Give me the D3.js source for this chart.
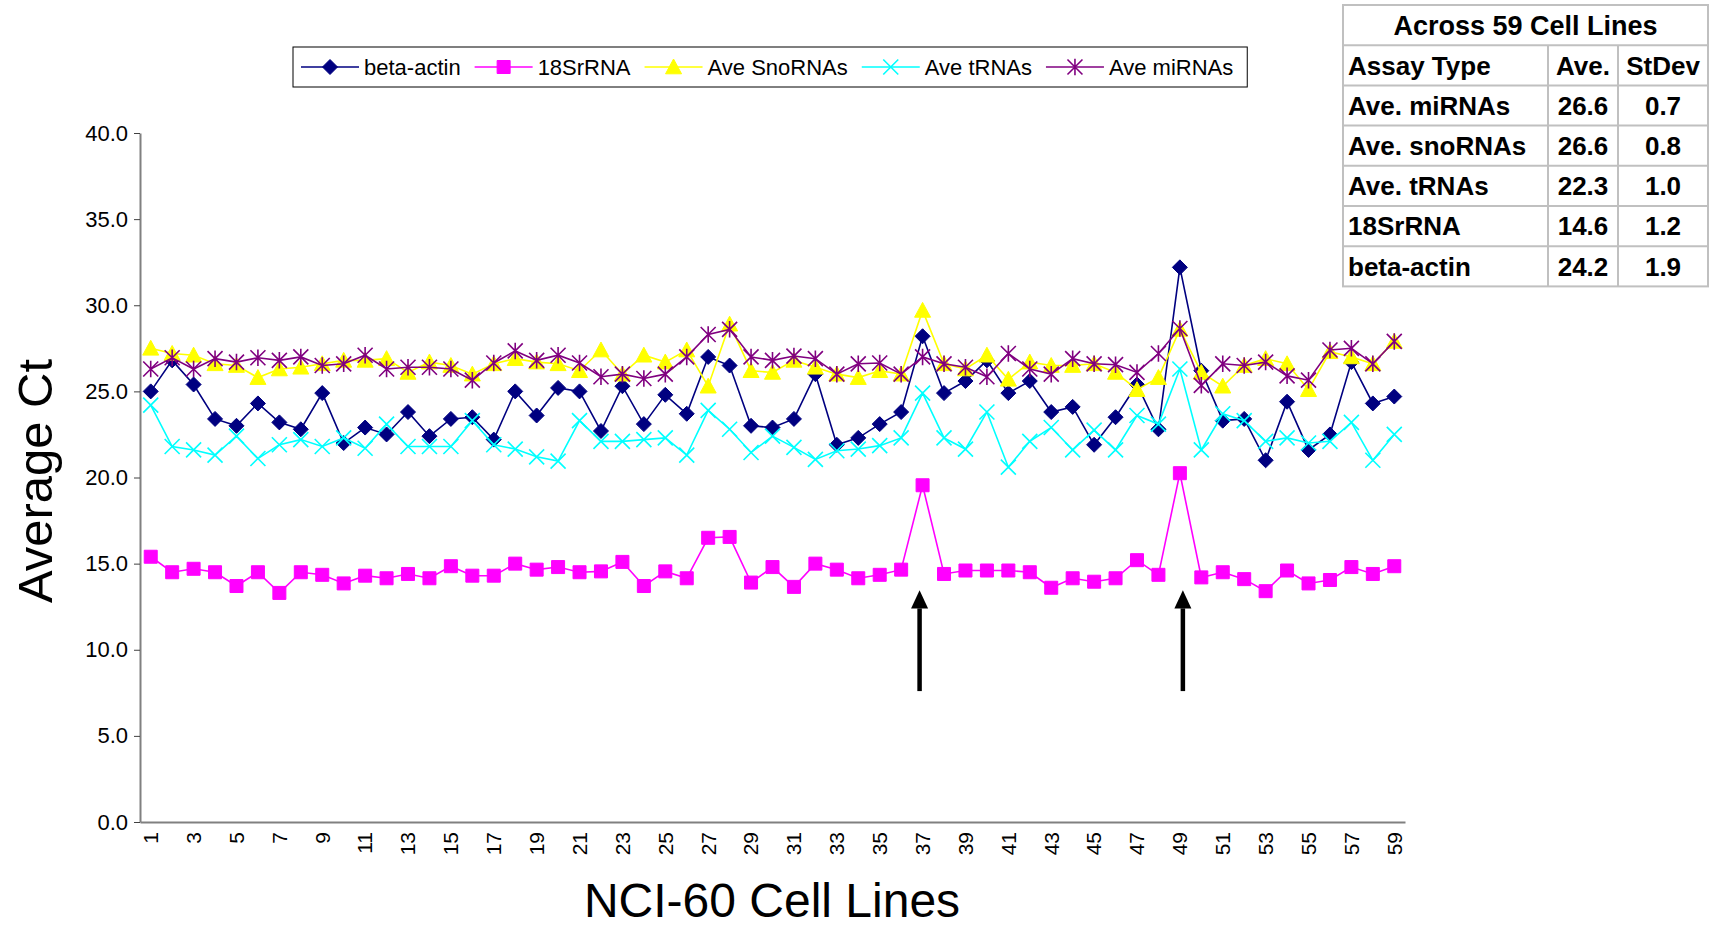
<!DOCTYPE html>
<html>
<head>
<meta charset="utf-8">
<script src="https://cdn.jsdelivr.net/npm/d3@7"></script>
<style>
	body { margin: 0; background: #fff; }
	text { font-family: "Liberation Sans", Arial, sans-serif; }
</style>
</head>
<body>
<div id="chart"></div>
<script>
// cell lines on the x axis
var cellLines = [1,2,3,4,5,6,7,8,9,10,11,12,13,14,15,16,17,18,19,20,21,22,23,24,25,26,27,28,29,30,
	31,32,33,34,35,36,37,38,39,40,41,42,43,44,45,46,47,48,49,50,51,52,53,54,55,56,57,58,59]
var xTickLabels = [1,3,5,7,9,11,13,15,17,19,21,23,25,27,29,31,33,35,37,39,41,43,45,47,49,51,53,55,57,59]
var yTicks = [0,5,10,15,20,25,30,35,40]

var betaActin = [25.0,26.8,25.4,23.4,23.0,24.3,23.2,22.8,24.9,22.0,22.9,22.5,23.8,22.4,23.4,23.5,22.2,25.0,23.6,25.2,
	25.0,22.7,25.3,23.1,24.8,23.7,27.0,26.5,23.0,22.9,23.4,26.0,21.9,22.3,23.1,23.8,28.2,24.9,25.6,26.8,
	24.9,25.6,23.8,24.1,21.9,23.5,25.4,22.8,32.2,26.2,23.3,23.4,21.0,24.4,21.6,22.5,26.7,24.3,24.7]
var rRNA18S = [15.4,14.5,14.7,14.5,13.7,14.5,13.3,14.5,14.35,13.85,14.3,14.15,14.4,14.15,14.85,14.3,14.3,15.0,14.65,14.8,
	14.5,14.55,15.1,13.7,14.55,14.15,16.5,16.55,13.9,14.8,13.65,15.0,14.65,14.15,14.35,14.65,19.55,14.4,14.6,14.6,
	14.6,14.5,13.6,14.15,13.95,14.15,15.2,14.35,20.25,14.2,14.5,14.1,13.4,14.6,13.85,14.05,14.8,14.4,14.85]
var snoRNAs = [27.5,27.2,27.1,26.6,26.5,25.8,26.3,26.4,26.6,26.8,26.8,26.9,26.1,26.7,26.5,26.0,26.6,26.9,26.7,26.6,
	26.2,27.4,26.0,27.1,26.7,27.4,25.3,28.9,26.2,26.1,26.8,26.4,26.0,25.8,26.2,26.0,29.7,26.6,26.3,27.1,
	25.7,26.7,26.5,26.5,26.6,26.1,25.1,25.8,28.6,26.1,25.3,26.5,26.9,26.6,25.1,27.3,27.0,26.6,27.9]
var tRNAs = [24.2,21.8,21.6,21.3,22.4,21.1,21.9,22.2,21.8,22.3,21.7,23.1,21.8,21.8,21.8,23.3,21.9,21.65,21.2,20.95,
	23.3,22.1,22.1,22.2,22.3,21.3,23.9,22.8,21.45,22.4,21.75,21.05,21.55,21.65,21.85,22.3,24.9,22.3,21.65,23.8,
	20.6,22.1,22.9,21.6,22.75,21.6,23.6,23.1,26.3,21.6,23.7,23.3,22.1,22.3,22.0,22.1,23.2,21.0,22.5]
var miRNAs = [26.3,26.95,26.3,26.9,26.7,26.95,26.8,27.0,26.5,26.6,27.1,26.3,26.4,26.4,26.3,25.65,26.65,27.35,26.8,27.1,
	26.65,25.85,26.0,25.75,26.0,27.0,28.3,28.6,27.0,26.8,27.05,26.9,26.0,26.6,26.65,26.0,27.0,26.6,26.4,25.85,
	27.2,26.3,26.0,26.9,26.6,26.55,26.1,27.2,28.65,25.35,26.6,26.5,26.7,25.9,25.65,27.4,27.5,26.6,27.9]

var seriesNames = ["beta-actin","18SrRNA","Ave SnoRNAs","Ave tRNAs","Ave miRNAs"]
var arrowCellLines = [37,49]

var tableTitle = "Across 59 Cell Lines"
var tableHeader = ["Assay Type","Ave.","StDev"]
var assayTypes = ["Ave. miRNAs","Ave. snoRNAs","Ave. tRNAs","18SrRNA","beta-actin"]
var assayAve = ["26.6","26.6","22.3","14.6","24.2"]
var assayStDev = ["0.7","0.8","1.0","1.2","1.9"]

var W = 1711, H = 927
var plot = {left:140, right:1405, top:133, bottom:822}

// marker shapes, excel style
var markers = {
	diamond: s=>`M0,${-s}L${s},0L0,${s}L${-s},0Z`,
	square: s=>`M${-s},${-s}H${s}V${s}H${-s}Z`,
	triangle: s=>`M0,${-s}L${s},${s*0.85}L${-s},${s*0.85}Z`,
	cross: s=>`M${-s},${-s}L${s},${s}M${s},${-s}L${-s},${s}`,
	star: s=>`M${-s},${-s}L${s},${s}M${s},${-s}L${-s},${s}M0,${-s*1.1}V${s*1.1}`
}

var series = [
	{name:seriesNames[0], values:betaActin, color:"#000080", marker:"diamond", size:7.5, filled:true},
	{name:seriesNames[1], values:rRNA18S, color:"#ff00ff", marker:"square", size:6.5, filled:true},
	{name:seriesNames[2], values:snoRNAs, color:"#ffff00", marker:"triangle", size:8, filled:true},
	{name:seriesNames[3], values:tRNAs, color:"#00ffff", marker:"cross", size:7.5, filled:false},
	{name:seriesNames[4], values:miRNAs, color:"#800080", marker:"star", size:7.5, filled:false}
]

var svg = d3.select("#chart").append("svg")
	.attr("width",W).attr("height",H)

var x = d3.scaleBand().domain(cellLines).range([plot.left,plot.right])
var xc = d=>x(d)+x.bandwidth()/2
var y = d3.scaleLinear().domain([0,40]).range([plot.bottom,plot.top])

// y axis
var yAxis = svg.append("g")
	.attr("transform","translate("+plot.left+",0)")
	.call(d3.axisLeft(y).tickValues(yTicks).tickFormat(d3.format(".1f")).tickSize(6).tickSizeOuter(0).tickPadding(6))
yAxis.select(".domain").attr("stroke","#808080").attr("stroke-width",2)
yAxis.selectAll(".tick line").attr("stroke","#404040")
yAxis.selectAll("text").attr("font-size",22).attr("fill","#000")

// x axis
var xAxis = svg.append("g")
	.attr("transform","translate(0,"+plot.bottom+")")
	.call(d3.axisBottom(x).tickValues(xTickLabels).tickSize(0).tickSizeOuter(0))
xAxis.select(".domain").attr("stroke","#808080").attr("stroke-width",2)
xAxis.selectAll("text")
	.attr("font-size",21).attr("fill","#000")
	.attr("transform","rotate(-90)")
	.attr("text-anchor","end")
	.attr("x",-10).attr("y",0).attr("dy","0.35em")

// axis titles
svg.append("text")
	.attr("transform","translate(52,481) rotate(-90)")
	.attr("text-anchor","middle")
	.attr("font-size",49)
	.text("Average Ct")
svg.append("text")
	.attr("x",772).attr("y",917)
	.attr("text-anchor","middle")
	.attr("font-size",48)
	.text("NCI-60 Cell Lines")

// series
var line = d3.line().x((d,i)=>xc(cellLines[i])).y(d=>y(d))
function drawMarker(g, s, px, py){
	g.append("path")
		.attr("d",markers[s.marker](s.size))
		.attr("transform","translate("+px+","+py+")")
		.attr("fill",s.filled ? s.color : "none")
		.attr("stroke",s.color)
		.attr("stroke-width",s.filled ? 1 : 1.6)
}
series.forEach(s=>{
	var g = svg.append("g")
	g.append("path")
		.attr("d",line(s.values))
		.attr("fill","none")
		.attr("stroke",s.color)
		.attr("stroke-width",1.6)
	s.values.forEach((v,i)=>drawMarker(g,s,xc(cellLines[i]),y(v)))
})

// arrows pointing at the 18S spikes (hand placed in the original, a little off centre)
var arrowNudge = {37:-3, 49:3}
arrowCellLines.forEach(c=>{
	var ax = xc(c)+arrowNudge[c], tip = y(13.45), base = y(12.4), bottom = y(7.6)
	svg.append("line")
		.attr("x1",ax).attr("x2",ax).attr("y1",bottom).attr("y2",base)
		.attr("stroke","#000").attr("stroke-width",4.5)
	svg.append("path")
		.attr("d",`M${ax},${tip}L${ax+8.5},${base}L${ax-8.5},${base}Z`)
		.attr("fill","#000")
})

// legend
var legend = svg.append("g")
var lx = 301, ly = 67
series.forEach(s=>{
	legend.append("line")
		.attr("x1",lx).attr("x2",lx+58).attr("y1",ly).attr("y2",ly)
		.attr("stroke",s.color).attr("stroke-width",1.6)
	drawMarker(legend,s,lx+29,ly)
	var t = legend.append("text")
		.attr("x",lx+63).attr("y",ly).attr("dy","0.35em")
		.attr("font-size",22)
		.text(s.name)
	lx += 63 + t.node().getComputedTextLength() + 14
})
legend.insert("rect",":first-child")
	.attr("x",293).attr("y",47)
	.attr("width",lx-293).attr("height",40)
	.attr("fill","#fff").attr("stroke","#000").attr("stroke-width",1)

// stats table
var tb = {top:5, rowH:40.2, cols:[1343,1548,1618,1708]}
var table = svg.append("g")
var nRows = assayTypes.length+2
var tableBottom = tb.top+nRows*tb.rowH
table.append("rect")
	.attr("x",tb.cols[0]).attr("y",tb.top)
	.attr("width",tb.cols[3]-tb.cols[0]).attr("height",nRows*tb.rowH)
	.attr("fill","#fff").attr("stroke","#c0c0c0").attr("stroke-width",2)
d3.range(1,nRows).forEach(r=>{
	table.append("line")
		.attr("x1",tb.cols[0]).attr("x2",tb.cols[3])
		.attr("y1",tb.top+r*tb.rowH).attr("y2",tb.top+r*tb.rowH)
		.attr("stroke","#c0c0c0").attr("stroke-width",2)
})
;[1,2].forEach(c=>{
	table.append("line")
		.attr("x1",tb.cols[c]).attr("x2",tb.cols[c])
		.attr("y1",tb.top+tb.rowH).attr("y2",tableBottom)
		.attr("stroke","#c0c0c0").attr("stroke-width",2)
})
function cell(txt,row,col,anchor){
	var cx = anchor=="start" ? tb.cols[col]+5 : (tb.cols[col]+tb.cols[col+1])/2
	table.append("text")
		.attr("x",cx).attr("y",tb.top+row*tb.rowH+tb.rowH/2).attr("dy","0.36em")
		.attr("text-anchor",anchor)
		.attr("font-size",26).attr("font-weight","bold")
		.text(txt)
}
table.append("text")
	.attr("x",(tb.cols[0]+tb.cols[3])/2).attr("y",tb.top+tb.rowH/2).attr("dy","0.36em")
	.attr("text-anchor","middle")
	.attr("font-size",27).attr("font-weight","bold")
	.text(tableTitle)
cell(tableHeader[0],1,0,"start")
cell(tableHeader[1],1,1,"middle")
cell(tableHeader[2],1,2,"middle")
assayTypes.forEach((a,i)=>{
	cell(a,i+2,0,"start")
	cell(assayAve[i],i+2,1,"middle")
	cell(assayStDev[i],i+2,2,"middle")
})
</script>
</body>
</html>
